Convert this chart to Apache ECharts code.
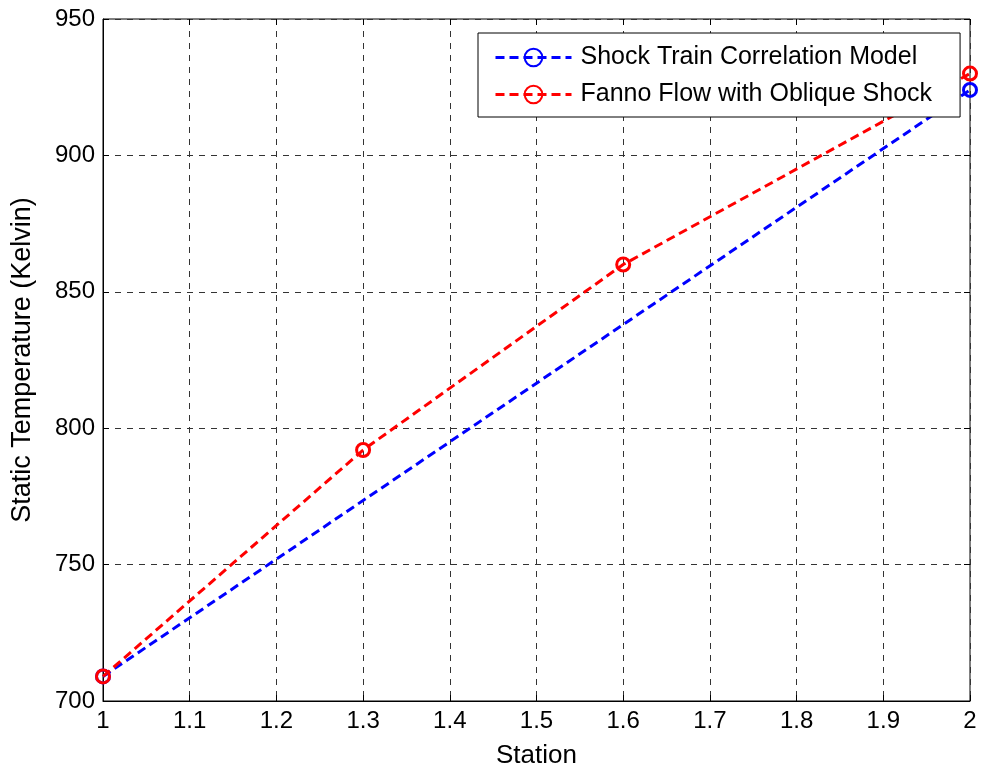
<!DOCTYPE html>
<html>
<head>
<meta charset="utf-8">
<script src="https://cdn.jsdelivr.net/npm/echarts@6/dist/echarts.min.js"></script>
<style>
  html, body { margin: 0; padding: 0; background: #fff; }
  #chart { width: 982px; height: 774px; }
</style>
</head>
<body>
<div id="chart"></div>
<script>
// values
const shockTrainStations = [1, 2]
const shockTrainTemps = [709, 924]
const fannoStations = [1, 1.3, 1.6, 2]
const fannoTemps = [709, 792, 860, 930]

const pairs = (xs, ys) => xs.map((x, i) => [x, ys[i]])

const chart = echarts.init(document.getElementById('chart'))
const font = 'Liberation Sans, Arial, sans-serif'
const gridLine = { show: true, lineStyle: { color: '#333', type: [6, 6], width: 1 } }
const tick = { show: true, inside: true, length: 6, lineStyle: { color: '#000' } }

const option = {
  animation: false,
  grid: { left: 103, top: 19, right: 12, bottom: 72, show: true, borderColor: '#000', borderWidth: 1 },
  legend: {
    orient: 'vertical',
    left: 478,
    top: 33,
    padding: [12, 28, 10, 16],
    itemGap: 12,
    itemWidth: 76,
    itemHeight: 22,
    backgroundColor: '#fff',
    borderColor: '#000',
    borderWidth: 1,
    borderRadius: 0,
    lineStyle: { width: 3 },
    textStyle: { fontFamily: font, fontSize: 25, color: '#000', padding: [0, 0, 0, 4] },
    data: ['Shock Train Correlation Model', 'Fanno Flow with Oblique Shock']
  },
  xAxis: [
    {
      type: 'value', min: 1, max: 2, interval: 0.1,
      name: 'Station', nameLocation: 'middle', nameGap: 42,
      nameTextStyle: { fontFamily: font, fontSize: 26, color: '#000' },
      axisLine: { show: true, onZero: false, lineStyle: { color: '#000' } },
      axisTick: tick,
      axisLabel: { fontFamily: font, fontSize: 24, color: '#000', margin: 8 },
      splitLine: gridLine
    },
    {
      type: 'value', min: 1, max: 2, interval: 0.1, position: 'top',
      axisLine: { show: false }, axisTick: tick, axisLabel: { show: false }, splitLine: { show: false }
    }
  ],
  yAxis: [
    {
      type: 'value', min: 700, max: 950, interval: 50,
      name: 'Static Temperature (Kelvin)', nameLocation: 'middle', nameGap: 67,
      nameTextStyle: { fontFamily: font, fontSize: 27, color: '#000' },
      axisLine: { show: true, lineStyle: { color: '#000' } },
      axisTick: tick,
      axisLabel: { fontFamily: font, fontSize: 24, color: '#000', margin: 8 },
      splitLine: gridLine
    },
    {
      type: 'value', min: 700, max: 950, interval: 50, position: 'right',
      axisLine: { show: false }, axisTick: tick, axisLabel: { show: false }, splitLine: { show: false }
    }
  ],
  series: [
    {
      name: 'Shock Train Correlation Model',
      type: 'line',
      data: pairs(shockTrainStations, shockTrainTemps),
      symbol: 'circle', symbolSize: 13, showAllSymbol: true,
      lineStyle: { color: '#0000ff', width: 3, type: [9, 5] },
      itemStyle: { color: 'rgba(255,255,255,0)', borderColor: '#0000ff', borderWidth: 3 }
    },
    {
      name: 'Fanno Flow with Oblique Shock',
      type: 'line',
      data: pairs(fannoStations, fannoTemps),
      symbol: 'circle', symbolSize: 13, showAllSymbol: true,
      lineStyle: { color: '#ff0000', width: 3, type: [9, 5] },
      itemStyle: { color: 'rgba(255,255,255,0)', borderColor: '#ff0000', borderWidth: 3 }
    }
  ]
}
chart.setOption(option)
</script>
</body>
</html>
